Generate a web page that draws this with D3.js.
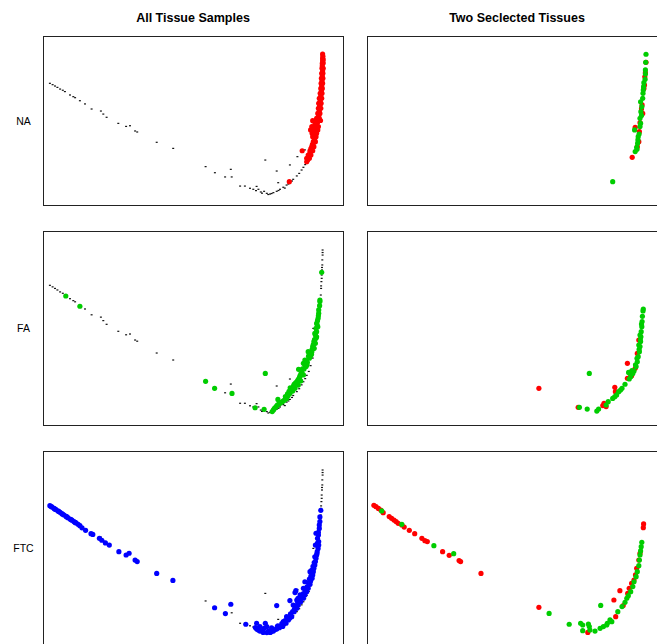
<!DOCTYPE html>
<html>
<head>
<meta charset="utf-8">
<script src="https://cdn.jsdelivr.net/npm/d3@7"></script>
<style>
  body { margin: 0; background: #fff; }
  text { font-family: "Liberation Sans", Arial, sans-serif; }
</style>
</head>
<body>
<script>
// scores on the two components, scaled 0..100 on both axes
const allSamples = [
  [2.3,72.0],[3.2,71.2],[4.0,70.4],[4.8,69.6],[5.7,68.6],[6.6,67.9],[7.3,67.1],[9.0,65.1],
  [10.1,64.1],[10.7,63.5],[12.3,61.7],[14.0,59.8],[16.2,56.8],[19.3,55.6],[20.1,53.8],[21.2,51.9],
  [25.1,48.3],[27.7,46.5],[29.0,46.9],[30.7,43.8],[31.4,43.2],[37.9,37.1],[43.4,33.5],[54.2,22.7],
  [57.3,19.1],[60.7,16.6],[62.6,21.1],[62.9,16.6],[65.7,11.2],[67.3,11.2],[69.0,9.9],[71.2,11.0],
  [74.1,26.6],[77.9,20.1],[82.3,23.7],[84.8,28.6],[78.4,13.2],[70.1,9.3],[71.0,8.5],[71.8,9.3],
  [72.6,7.7],[73.7,8.1],[74.6,6.9],[75.7,6.5],[76.8,7.3],[77.9,8.1],[79.0,9.3],[80.1,10.5],
  [81.2,11.8],[82.3,13.2],[83.4,15.2],[84.6,17.2],[85.4,18.7],[86.2,20.7],[86.8,22.3],[87.4,23.9],
  [87.9,25.6],[88.6,27.6],[89.2,30.6],[89.9,34.5],[90.4,38.5],[91.0,44.4],[91.4,50.3],[91.9,56.2],
  [92.2,62.1],[92.6,67.0],[92.7,70.4],[92.8,73.9],[92.9,77.3],[93.0,79.9],[93.1,82.5],[93.1,85.1],
  [93.2,87.6],[93.2,90.2],[87.3,32.6],[90.1,49.8],[73.0,7.0],[75.1,6.2],[76.2,6.8],[78.5,8.6],
  [80.6,10.0],[81.8,12.4],[83.0,14.2],[92.9,75.6],[93.0,81.2],[93.2,88.9],[92.7,71.7],[92.5,65.0]
];

const naSamples = [
  [93.2,89.3],[93.2,86.8],[93.1,83.8],[93.0,80.9],[93.4,80.9],[92.9,77.9],[93.3,77.9],[92.8,75.0],
  [93.3,75.0],[92.7,72.0],[93.2,72.0],[92.6,69.0],[93.1,69.0],[92.4,66.1],[93.0,66.1],[92.1,63.1],
  [92.9,63.1],[91.9,60.2],[92.7,60.2],[91.8,57.2],[92.6,57.2],[91.6,54.2],[92.3,54.2],[91.2,51.3],
  [92.1,51.3],[89.9,49.9],[90.7,48.3],[89.6,46.4],[90.3,46.4],[91.8,46.4],[89.2,44.4],[90.8,44.4],
  [91.6,44.4],[89.7,42.4],[91.2,42.4],[89.9,40.4],[91.0,40.4],[90.1,37.5],[90.8,37.5],[89.6,34.5],
  [90.3,34.5],[86.4,32.1],[89.0,32.1],[89.9,32.1],[88.4,29.6],[89.3,29.6],[87.9,27.6],[88.8,27.6],
  [87.9,25.6],[82.1,13.8],
  [93.3,88.0],[93.2,85.3],[93.1,82.3],[93.2,79.4],[93.1,76.4],[93.0,73.5],[92.9,70.5],[92.8,67.6],
  [92.6,64.6],[92.4,61.6],[92.2,58.7],[92.1,55.7],[91.9,52.8],[91.5,49.8],[91.0,47.5],[90.5,45.4],
  [90.0,43.4],[90.5,41.4],[90.5,39.0],[90.0,36.0],[89.8,35.8],[89.3,33.3],[89.0,30.8],[88.6,28.6],
  [88.2,26.6],[91.5,48.8],[92.5,50.0],[93.4,84.0],[93.4,86.0],[92.3,59.0]
];

const faSamples = [
  [7.6,66.5],[12.3,61.2],[54.2,22.5],[57.2,18.9],[63.0,16.3],[74.1,26.6],[70.7,8.9],[73.7,8.1],
  [92.9,78.7],[92.3,64.4],[92.3,63.6],[91.9,59.3],[91.9,57.6],[91.7,55.0],[91.2,52.4],[91.4,51.5],
  [91.0,49.8],[91.2,48.1],[90.8,46.4],[91.0,44.7],[90.3,43.0],[90.8,42.1],[89.9,40.4],[90.4,39.5],
  [88.4,37.8],[89.6,37.8],[89.2,35.7],[88.8,34.4],[87.3,33.5],[86.8,31.8],[88.1,32.3],[87.7,30.1],
  [85.2,28.7],[87.0,28.9],[86.3,27.0],[85.7,25.4],[86.8,25.8],[85.2,23.7],[84.6,22.3],[85.9,22.7],
  [83.7,21.0],[85.1,20.6],[82.4,19.2],[84.0,18.9],[83.2,17.5],[82.3,16.3],[81.7,15.1],[81.2,13.7],
  [80.1,12.4],[79.0,11.2],[78.3,13.2],[78.1,10.3],[77.3,8.9],[76.8,7.7],[76.4,6.9],
  [91.5,53.8],[91.6,50.6],[90.6,47.2],[91.2,45.5],[90.5,44.0],[90.1,41.5],[89.7,39.0],[89.0,36.8],
  [88.5,35.5],[87.8,33.0],[87.3,31.0],[86.5,29.0],[86.0,26.5],[85.5,24.5],[84.9,23.0],[84.2,21.7],
  [83.5,20.0],[83.0,18.2],[82.0,17.3],[81.5,16.0],[80.8,14.7],[80.6,13.0],[79.6,11.8],[78.6,10.8],
  [77.8,9.6],[77.0,8.2],[92.2,61.5],[89.5,36.5],[88.0,31.0],[91.8,56.3]
];

const ftcSamples = [
  [2.3,71.8],[3.0,71.1],[3.7,70.4],[4.3,69.8],[5.0,69.1],[5.7,68.4],[6.3,67.7],[7.0,67.0],
  [7.7,66.3],[8.3,65.6],[9.0,64.9],[9.7,64.3],[10.3,63.6],[11.0,62.9],[11.7,62.2],[12.3,61.5],
  [14.2,59.1],[16.0,57.4],[16.6,57.0],[18.8,55.0],[19.6,54.0],[20.8,52.6],[22.1,51.5],[25.3,48.1],
  [27.7,46.4],[28.7,47.3],[30.7,43.8],[31.4,43.0],[37.9,36.9],[43.3,33.3],[57.2,19.2],[60.8,16.2],
  [62.6,21.0],[67.6,10.7],[71.2,11.2],[74.1,11.2],[77.9,20.3],[82.3,22.9],[84.3,28.0],
  [71.2,8.2],[72.3,7.2],[73.4,6.5],[74.6,6.4],[75.7,6.5],[76.8,7.2],[77.9,8.2],[78.8,8.9],
  [79.9,9.6],[81.0,11.2],[81.8,12.9],[82.9,14.6],[83.7,17.2],[84.6,18.9],[85.1,20.6],[85.9,22.3],
  [86.8,24.1],[87.3,25.8],[87.9,27.5],[88.4,29.2],[89.0,31.3],[89.2,33.0],[89.7,34.4],[89.9,36.1],
  [90.1,37.8],[90.3,39.5],[90.6,41.2],[90.8,43.0],[91.0,44.7],[91.2,46.4],[91.4,48.1],[91.7,49.8],
  [91.9,51.5],[91.9,53.3],[91.8,56.7],[91.8,58.1],[92.1,60.1],[92.1,61.9],[92.3,63.6],[92.6,69.4],
  [91.0,57.6],[90.8,51.5],[89.0,37.8],[87.3,32.6],[86.8,29.2],[85.7,25.8],[84.6,23.2],[83.4,20.6],
  [83.2,17.2],[81.2,14.6],[80.1,12.0],[78.1,9.5],[76.2,8.9],[74.6,9.5],[73.7,8.6],[72.3,9.5],[71.8,7.7],
  [92.3,66.0],[91.5,55.0],[91.5,52.5],[91.3,47.0],[90.6,45.5],[90.4,42.5],[90.0,40.5],[89.5,38.5],
  [89.3,35.5],[88.8,34.0],[88.5,32.0],[88.0,30.0],[87.5,28.0],[86.8,26.5],[86.2,25.0],[85.5,23.5],
  [84.9,21.8],[84.2,20.0],[83.8,18.5],[82.5,16.0],[82.2,13.8],[80.7,12.6],[79.6,11.0],[78.3,9.9],
  [77.3,8.0],[76.0,6.8],[75.2,7.3],[73.0,7.3],[72.0,8.5],[70.8,9.0],[84.0,27.0],[85.0,24.0],
  [2.8,71.3],[4.0,70.0],[5.3,68.8],[6.6,67.4],[8.0,66.0],[9.4,64.6],[10.7,63.2],[13.0,60.4]
];

// two selected tissues (red = first, green = second) for each row
const pairNA_red = [
  [93.0,84.4],[92.8,78.3],[92.6,75.9],[92.3,69.0],[91.7,59.2],[91.9,54.2],[91.0,48.7],[89.4,46.0],
  [90.8,43.4],[90.1,34.5],[88.4,28.2],[92.5,71.0],[91.5,57.0],[90.6,37.5]
];
const pairNA_green = [
  [93.0,89.2],[92.9,84.4],[92.8,79.9],[92.7,74.4],[92.3,72.4],[92.1,68.0],[92.0,66.1],[91.9,63.1],
  [91.2,61.1],[91.6,58.2],[91.3,55.2],[91.0,51.3],[91.2,48.3],[91.0,46.4],[89.2,44.4],[90.4,40.4],
  [90.3,38.5],[90.2,36.5],[89.9,34.1],[89.4,31.6],[81.9,13.8],[92.8,77.5],[92.2,70.0],[91.5,53.0],
  [90.7,42.0],[90.0,33.0]
];
const pairFA_red = [
  [57.3,18.9],[70.4,9.1],[78.6,10.0],[79.7,9.5],[79.0,11.2],[82.6,19.4],[82.8,17.2],[86.8,31.8],
  [86.8,24.1],[87.9,25.8],[88.2,25.4],[90.1,36.9],[90.6,43.8],[89.4,29.2]
];
const pairFA_green = [
  [92.1,59.8],[92.0,58.8],[91.7,53.3],[91.6,50.7],[91.4,48.1],[91.3,45.5],[91.2,43.0],[91.0,40.4],
  [90.8,37.8],[90.4,35.2],[90.1,32.6],[89.7,30.1],[89.0,27.8],[87.2,27.1],[87.9,24.9],[87.4,23.7],
  [86.0,21.0],[85.0,18.9],[83.9,17.2],[83.2,15.5],[81.9,13.7],[80.4,12.0],[79.7,10.3],[77.2,8.2],
  [76.6,7.2],[73.4,8.2],[70.8,9.1],[74.1,26.6],[91.0,46.4],[90.6,41.2],[90.0,34.4],[88.6,26.6],
  [91.8,56.0],[91.5,52.0],[91.1,44.0],[90.7,39.0],[89.5,31.0],[88.3,28.0],[84.5,18.0],[82.6,14.6]
];
const pairFTC_red = [
  [2.3,72.0],[3.0,71.3],[3.8,70.4],[4.6,69.6],[5.4,68.2],[7.4,66.2],[8.2,65.3],[9.0,64.4],
  [9.7,63.6],[10.4,62.7],[11.6,61.9],[12.4,60.8],[14.1,59.1],[15.9,57.4],[18.3,55.0],[19.3,53.8],
  [20.1,53.3],[25.2,48.1],[27.4,46.2],[30.7,43.5],[31.2,43.0],[38.0,36.9],[57.3,19.4],[82.3,23.2],
  [82.9,14.6],[84.3,28.0],[86.9,26.6],[85.4,20.3],[87.4,29.2],[88.2,31.8],[89.0,33.5],[89.5,36.1],
  [89.9,39.5],[90.6,43.8],[91.0,47.3],[92.2,62.4],[92.1,60.5],[73.6,6.5]
];
const pairFTC_green = [
  [4.9,69.1],[11.6,62.2],[22.3,51.2],[28.9,47.1],[60.7,16.3],[67.4,10.7],[71.2,11.2],[71.9,10.3],
  [73.8,10.8],[74.1,9.5],[71.9,7.4],[74.3,7.7],[76.0,7.2],[77.7,8.6],[78.8,9.5],[80.1,11.2],
  [81.0,12.9],[83.6,17.2],[77.9,20.4],[85.0,19.8],[86.0,22.0],[86.6,24.1],[87.1,25.4],[87.9,27.5],
  [88.6,30.1],[89.0,32.6],[89.7,35.2],[90.1,37.8],[90.6,40.9],[90.8,43.8],[91.0,46.4],[91.2,48.5],
  [91.4,50.7],[91.6,52.9],[79.9,10.3],[81.6,12.0]
];

const rowLabels = ['NA', 'FA', 'FTC'];
const colTitles = ['All Tissue Samples', 'Two Seclected Tissues'];

const w = 657;
const h = 644;
const colLeft = [43, 367];
const panelW = 300;
const rowBox = [{ top: 36, h: 169 }, { top: 231, h: 194 }, { top: 451, h: 194 }];

const svg = d3.select('body')
  .append('svg')
  .attr('width', w)
  .attr('height', h);

svg.selectAll('text.title')
  .data(colTitles)
  .enter()
  .append('text')
  .attr('class', 'title')
  .attr('x', (d, i) => colLeft[i] + panelW / 2)
  .attr('y', 22)
  .attr('text-anchor', 'middle')
  .style('font-size', '12.5px')
  .style('font-weight', 'bold')
  .text(d => d);

svg.selectAll('text.row')
  .data(rowLabels)
  .enter()
  .append('text')
  .attr('class', 'row')
  .attr('x', 23.5)
  .attr('y', (d, i) => rowBox[i].top + rowBox[i].h / 2 + 4)
  .attr('text-anchor', 'middle')
  .style('font-size', '10.5px')
  .text(d => d);

const leftSets = [
  { pts: naSamples, color: '#ff0000' },
  { pts: faSamples, color: '#00cd00' },
  { pts: ftcSamples, color: '#0000ff' }
];
const rightSets = [
  [pairNA_red, pairNA_green],
  [pairFA_red, pairFA_green],
  [pairFTC_red, pairFTC_green]
];

function dots(g, pts, x, y, color) {
  g.selectAll(null)
    .data(pts)
    .enter()
    .append('circle')
    .attr('cx', d => x(d[0]))
    .attr('cy', d => y(d[1]))
    .attr('r', 2.6)
    .style('fill', color);
}

rowBox.forEach((box, r) => {
  colLeft.forEach((left, c) => {
    const x = d3.scaleLinear().domain([0, 100]).range([left, left + panelW]);
    const y = d3.scaleLinear().domain([0, 100]).range([box.top + box.h, box.top]);
    const g = svg.append('g');

    if (c === 0) {
      g.selectAll(null)
        .data(allSamples)
        .enter()
        .append('rect')
        .attr('x', d => x(d[0]) - 1)
        .attr('y', d => y(d[1]) - 0.6)
        .attr('width', 2)
        .attr('height', 1.2)
        .style('fill', '#111');
      dots(g, leftSets[r].pts, x, y, leftSets[r].color);
    } else {
      dots(g, rightSets[r][0], x, y, '#ff0000');
      dots(g, rightSets[r][1], x, y, '#00cd00');
    }

    g.append('rect')
      .attr('x', left + 0.5)
      .attr('y', box.top + 0.5)
      .attr('width', panelW)
      .attr('height', box.h)
      .style('fill', 'none')
      .style('stroke', '#222')
      .style('stroke-width', 1);
  });
});
</script>
</body>
</html>
